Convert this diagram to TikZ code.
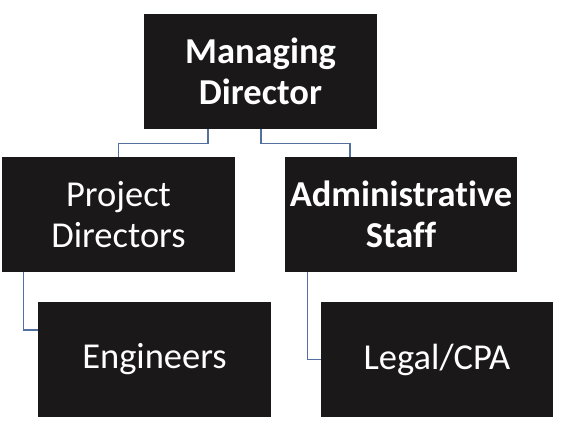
\documentclass[tikz,border=0pt]{standalone}
\usepackage{fontspec}
\setmainfont[Ligatures={NoCommon,NoRare,NoContextual}]{Carlito}
\begin{document}
\begin{tikzpicture}[x=1pt,y=-1pt,
  box/.style={fill=boxblack, draw=none, text=white, minimum width=233pt, minimum height=115pt, align=center, inner sep=0pt,
    font=\fontsize{36.5}{41}\selectfont},
  bbox/.style={box, font=\fontsize{36.5}{41}\selectfont\bfseries},
  conn/.style={draw=connblue, line width=1.2pt}]
\definecolor{boxblack}{HTML}{1A1818}
\definecolor{connblue}{HTML}{5470A0}
\useasboundingbox (0,0) rectangle (563,440);
\node[bbox] (md) at (260.5,71.5) {Managing\\Director};
\node[box] (pd) at (118.5,214.5) {Project\\Directors};
\node[bbox, minimum width=232pt] (as) at (401,214.5) {Administrative\\Staff};
\node[box] (en) at (154.5,359.5) {Engineers};
\node[box, minimum width=232pt] (lc) at (437,359.5) {Legal/CPA};
\draw[conn] ([xshift=-52.5pt]md.south) -- ++(0pt,-14pt) -| (pd.north);
\draw[conn] ([xshift=0.5pt]md.south) -- ++(0pt,-14pt) -| ([xshift=-51pt]as.north);
\draw[conn] ([xshift=22pt]pd.south west) |- ([yshift=29.5pt]en.west);
\draw[conn] ([xshift=23pt]as.south west) |- (lc.west);
\end{tikzpicture}
\end{document}
